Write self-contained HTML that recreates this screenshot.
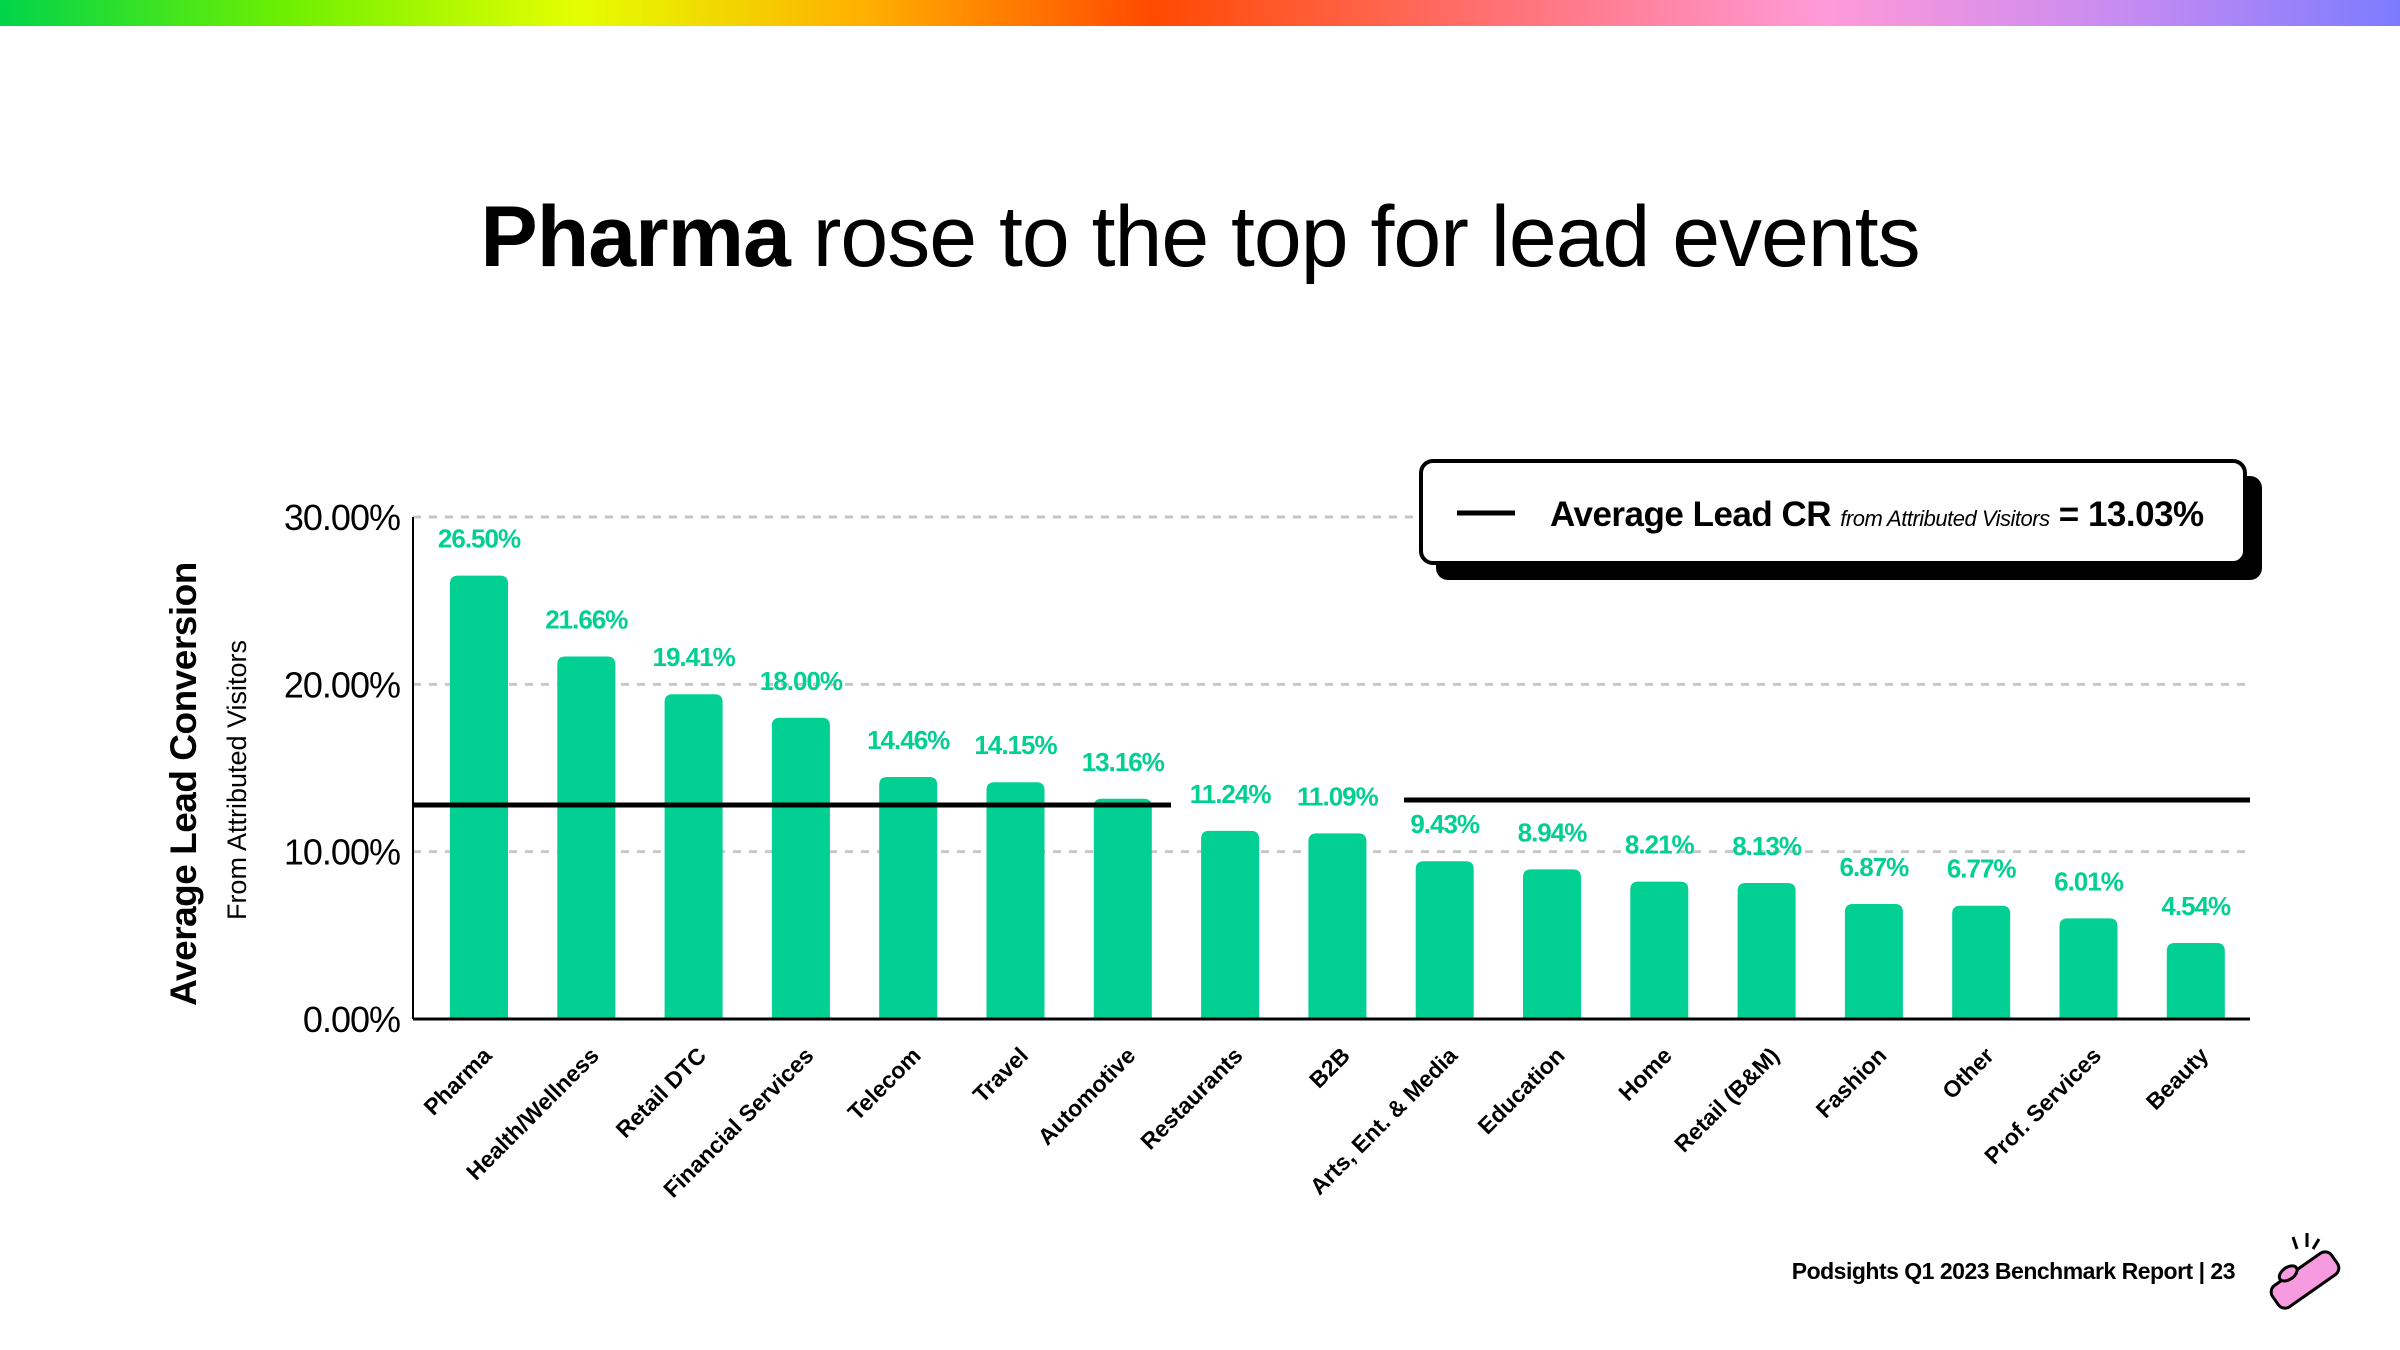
<!DOCTYPE html>
<html><head><meta charset="utf-8"><style>
html,body{margin:0;padding:0;background:#fff;}
body{width:2400px;height:1350px;overflow:hidden;position:relative;font-family:"Liberation Sans",sans-serif;}
#topbar{position:absolute;left:0;top:0;width:2400px;height:26px;background:linear-gradient(90deg,#00d44a 0%,#6ef000 12%,#e4ff00 24%,#ffb000 36%,#ff4a00 48%,#ff7070 62%,#ff9ad8 76%,#c98cf0 88%,#7c7cff 100%);}
#title{position:absolute;left:0;width:2400px;top:188px;text-align:center;font-size:86px;letter-spacing:-1px;color:#000;}
#footer{position:absolute;right:165px;top:1258px;font-size:23px;font-weight:bold;letter-spacing:-0.5px;}
</style></head><body>
<div id="topbar"></div>
<div id="title"><b>Pharma</b> rose to the top for lead events</div>
<svg id="chart" width="2400" height="1350" style="position:absolute;left:0;top:0" xmlns="http://www.w3.org/2000/svg"></svg>
<div id="footer">Podsights Q1 2023 Benchmark Report | 23</div>
<svg width="100" height="100" style="position:absolute;left:2255px;top:1225px">
<g transform="rotate(-35 50 55)"><rect x="14" y="42" width="72" height="26" rx="8" fill="#f79be0" stroke="#000" stroke-width="3"/><ellipse cx="40" cy="40" rx="10" ry="6" fill="#f79be0" stroke="#000" stroke-width="3"/></g>
<path d="M38 12 L42 24 M52 8 L52 22 M64 14 L58 24" stroke="#000" stroke-width="3"/>
</svg>
<script>
const categories=["Pharma","Health/Wellness","Retail DTC","Financial Services","Telecom","Travel","Automotive","Restaurants","B2B","Arts, Ent. & Media","Education","Home","Retail (B&M)","Fashion","Other","Prof. Services","Beauty"];
const values=[26.50,21.66,19.41,18.00,14.46,14.15,13.16,11.24,11.09,9.43,8.94,8.21,8.13,6.87,6.77,6.01,4.54];
const yTicks=[0,10,20,30];
const average=13.03;
const NS="http://www.w3.org/2000/svg";
const svg=document.getElementById('chart');
const X0=413,X1=2250,Y0=1019,Y30=517;
const y=v=>Y0-(v/30)*(Y0-Y30);
const step=107.3, firstC=479, bw=58;
const xc=i=>firstC+i*step;
function mk(t,a){const e=document.createElementNS(NS,t);for(const k in a)e.setAttribute(k,a[k]);svg.appendChild(e);return e;}
yTicks.forEach(t=>{
  if(t>0){const g=mk('line',{x1:X0,x2:X1,y1:y(t),y2:y(t),stroke:'#c8c8c8','stroke-width':3,'stroke-dasharray':'8 8'});
  
  }
  const l=mk('text',{x:400,y:y(t)+13,'text-anchor':'end','font-size':36,'font-family':'Liberation Sans',fill:'#000','letter-spacing':'-1'});
  l.textContent=t.toFixed(2)+'%';
  
  
});
values.forEach((v,i)=>{
  const top=y(v);
  const b=mk('path',{d:`M${xc(i)-bw/2} ${Y0} V${top+8} Q${xc(i)-bw/2} ${top} ${xc(i)-bw/2+8} ${top} H${xc(i)+bw/2-8} Q${xc(i)+bw/2} ${top} ${xc(i)+bw/2} ${top+8} V${Y0} Z`,fill:'#02cf92'});
  
  
  const t=mk('text',{x:xc(i),y:top-28,'text-anchor':'middle','font-size':26,'font-weight':'bold','font-family':'Liberation Sans',fill:'#02cf92','letter-spacing':'-1'});
  t.textContent=v.toFixed(2)+'%';
  
  
  const c=mk('text',{x:0,y:0,'text-anchor':'end','font-size':23,'font-weight':'bold','font-family':'Liberation Sans',fill:'#000',transform:`translate(${xc(i)+14},${Y0+38}) rotate(-45)`});
  c.textContent=categories[i];
  
  
});
const ax=mk('line',{x1:X0,x2:X0,y1:Y30,y2:Y0,stroke:'#000','stroke-width':2});


const bx=mk('line',{x1:X0,x2:X1,y1:Y0,y2:Y0,stroke:'#000','stroke-width':3});


const a1=mk('line',{x1:X0,x2:1171,y1:y(average)+4,y2:y(average)+4,stroke:'#000','stroke-width':5});


const a2=mk('line',{x1:1404,x2:X1,y1:y(average)-1,y2:y(average)-1,stroke:'#000','stroke-width':5});


const yt=mk('text',{x:0,y:0,'text-anchor':'middle','font-size':37,'font-weight':'bold','font-family':'Liberation Sans',fill:'#000',transform:'translate(196,784) rotate(-90)','letter-spacing':'-0.5'});
yt.textContent='Average Lead Conversion';


const ys=mk('text',{x:0,y:0,'text-anchor':'middle','font-size':27,'font-family':'Liberation Sans',fill:'#000',transform:'translate(246,780) rotate(-90)'});
ys.textContent='From Attributed Visitors';


const sh=mk('rect',{x:1436,y:476,width:826,height:104,rx:12,fill:'#000'});


const lb=mk('rect',{x:1421,y:461,width:824,height:102,rx:12,fill:'#fff',stroke:'#000','stroke-width':4});


const ll=mk('line',{x1:1457,x2:1515,y1:513,y2:513,stroke:'#000','stroke-width':5});


const lt=mk('text',{x:1550,y:526,'font-size':35,'font-weight':'bold','font-family':'Liberation Sans',fill:'#000','letter-spacing':'-0.5'});
lt.innerHTML='Average Lead CR <tspan font-size="22" font-style="italic" font-weight="normal">from Attributed Visitors</tspan> = '+average.toFixed(2)+'%';


</script>
</body></html>
